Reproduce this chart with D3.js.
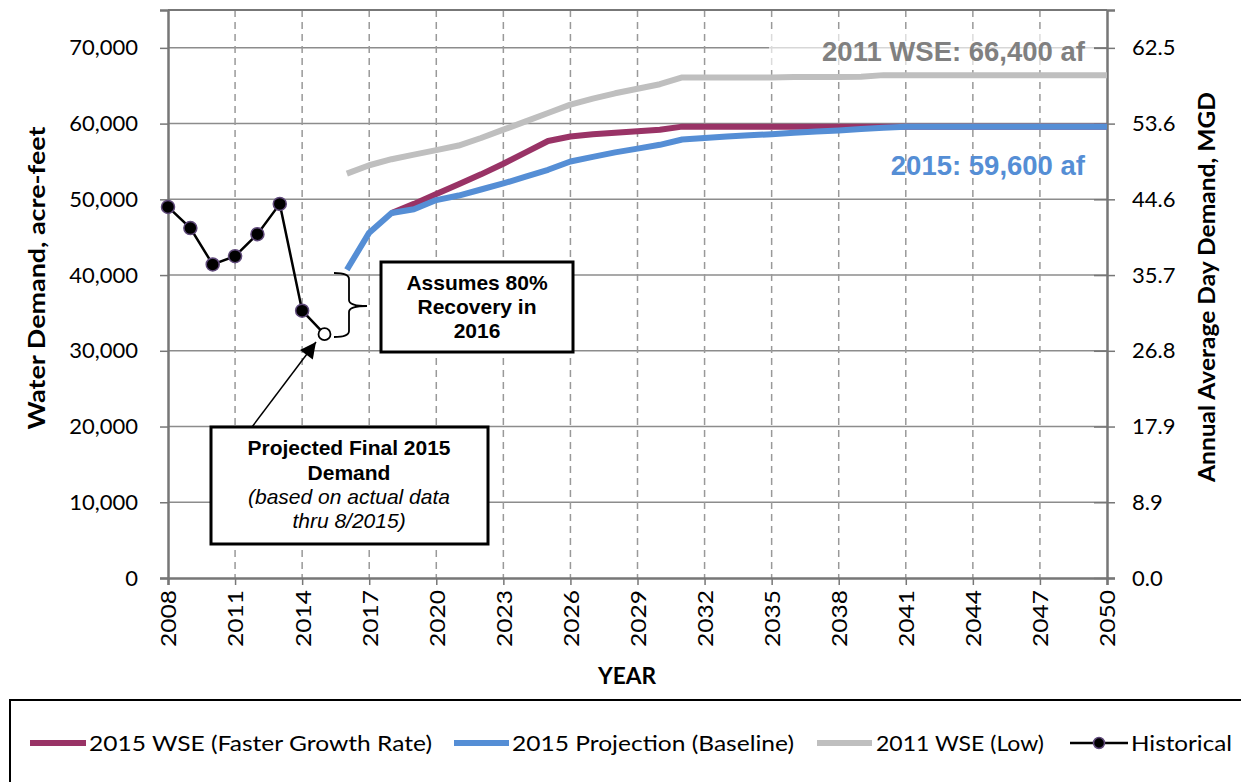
<!DOCTYPE html>
<html>
<head>
<meta charset="utf-8">
<script src="https://cdn.jsdelivr.net/npm/d3@7"></script>
<style>
  body { margin: 0; background: #fff; }
  svg { font-family: "Liberation Sans", Arial, sans-serif; }
  .tick text { fill: #000; }
</style>
</head>
<body>
<div id="chart"></div>
<script>
// ---- data ----
var histYears = [2008, 2009, 2010, 2011, 2012, 2013, 2014];
var histValues = [49000, 46200, 41400, 42500, 45400, 49400, 35300];
var projected2015 = [2015, 32200];

var baseYears = d3.range(2016, 2051);
var baseValues = [40700, 45600, 48200, 48700, 49900, 50500, 51300, 52100, 53000, 53900,
                  55000, 55600, 56200, 56700, 57200, 57900, 58100, 58300, 58450, 58600,
                  58800, 58950, 59100, 59300, 59450, 59600, 59600, 59600, 59600, 59600,
                  59600, 59600, 59600, 59600, 59600];

var fastYears = d3.range(2018, 2051);
var fastValues = [48200, 49400, 50700, 52000, 53300, 54700, 56200, 57700, 58300, 58600,
                  58800, 59000, 59200, 59600, 59600, 59600, 59600, 59600, 59600, 59600,
                  59600, 59600, 59600, 59600, 59600, 59600, 59600, 59600, 59600, 59600,
                  59600, 59600, 59600];

var lowYears = d3.range(2016, 2051);
var lowValues = [53400, 54500, 55300, 55900, 56500, 57100, 58100, 59200, 60300, 61400,
                 62500, 63300, 64000, 64600, 65200, 66100, 66100, 66100, 66100, 66100,
                 66150, 66150, 66150, 66200, 66400, 66400, 66400, 66400, 66400, 66400,
                 66400, 66400, 66400, 66400, 66400];

var yTicks = [0, 10000, 20000, 30000, 40000, 50000, 60000, 70000];
var xTicks = d3.range(2008, 2051, 3);
var legendLabels = ["2015 WSE (Faster Growth Rate)", "2015 Projection (Baseline)", "2011 WSE (Low)", "Historical"];
var AF_PER_MGD = 1120.1;

var cPurple = "#993366", cBlue = "#558ED5", cGray = "#BFBFBF", cGrid = "#8c8c8c";
var uiFont = "Lato, 'Open Sans', sans-serif";

var W = 1241, H = 782;
var svg = d3.select("#chart").append("svg")
    .attr("width", W)
    .attr("height", H);

var x = d3.scaleLinear().domain([2008, 2050]).range([168, 1107]);
var y = d3.scaleLinear().domain([0, 75000]).range([578, 10]);

// gridlines
svg.append("g").selectAll("line.hgrid")
  .data(yTicks.slice(1)).enter().append("line")
    .attr("x1", x(2008)).attr("x2", x(2050))
    .attr("y1", d => y(d)).attr("y2", d => y(d))
    .style("stroke", cGrid).style("stroke-width", 1.5);

svg.append("g").selectAll("line.vgrid")
  .data(xTicks.slice(1, -1)).enter().append("line")
    .attr("x1", d => x(d)).attr("x2", d => x(d))
    .attr("y1", y(75000)).attr("y2", y(0))
    .style("stroke", "#999").style("stroke-width", 1.5)
    .style("stroke-dasharray", "7,5");

// frame
svg.append("line").attr("x1", x(2008)).attr("x2", x(2050)).attr("y1", y(75000)).attr("y2", y(75000))
  .style("stroke", "#777").style("stroke-width", 2);

// axes
var yAxis = d3.axisLeft(y).tickValues(yTicks).tickSize(8).tickPadding(22)
    .tickFormat(d3.format(","));
var gy = svg.append("g").attr("transform", "translate(" + x(2008) + ",0)").call(yAxis);

var yAxisR = d3.axisRight(y).tickValues(yTicks).tickSize(8).tickPadding(17)
    .tickFormat(d => (d / AF_PER_MGD).toFixed(1));
var gyr = svg.append("g").attr("transform", "translate(" + x(2050) + ",0)").call(yAxisR);
gyr.selectAll(".tick line").attr("x1", -13);

var xAxis = d3.axisBottom(x).tickValues(xTicks).tickSize(7).tickFormat(d3.format("d"));
var gx = svg.append("g").attr("transform", "translate(0," + y(0) + ")").call(xAxis);

[gy, gyr, gx].forEach(function(g) {
  g.selectAll(".domain").style("stroke", "#777").style("stroke-width", 2.5);
  g.selectAll(".tick line").style("stroke", "#777").style("stroke-width", 1.5);
  g.selectAll(".tick text").style("font-size", "22px").style("font-family", uiFont);
});

gx.selectAll(".tick text")
  .attr("transform", "rotate(-90)")
  .attr("x", -12).attr("y", 0).attr("dy", "0.36em")
  .attr("textLength", 57).attr("lengthAdjust", "spacingAndGlyphs")
  .style("text-anchor", "end");

// axis titles
svg.append("text")
  .attr("transform", "translate(45,278) rotate(-90)")
  .attr("text-anchor", "middle")
  .attr("textLength", 303).attr("lengthAdjust", "spacingAndGlyphs")
  .style("font-family", uiFont)
  .style("font-size", "22px").style("font-weight", "bold")
  .text("Water Demand, acre-feet");

svg.append("text")
  .attr("transform", "translate(1215,287) rotate(-90)")
  .attr("text-anchor", "middle")
  .attr("textLength", 390).attr("lengthAdjust", "spacingAndGlyphs")
  .style("font-family", uiFont)
  .style("font-size", "22px").style("font-weight", "bold")
  .text("Annual Average Day Demand, MGD");

svg.append("text")
  .attr("x", 627).attr("y", 684)
  .attr("text-anchor", "middle")
  .attr("textLength", 58).attr("lengthAdjust", "spacingAndGlyphs")
  .style("font-family", uiFont)
  .style("font-size", "23px").style("font-weight", "bold")
  .text("YEAR");

// series
var line = d3.line().x(d => x(d[0])).y(d => y(d[1]));

function pairs(xs, vs) { return xs.map((d, i) => [d, vs[i]]); }

svg.append("path").datum(pairs(lowYears, lowValues))
  .attr("d", line).style("fill", "none").style("stroke", cGray)
  .style("stroke-width", 6).style("stroke-linejoin", "round");

svg.append("path").datum(pairs(fastYears, fastValues))
  .attr("d", line).style("fill", "none").style("stroke", cPurple)
  .style("stroke-width", 6).style("stroke-linejoin", "round");

svg.append("path").datum(pairs(baseYears, baseValues))
  .attr("d", line).style("fill", "none").style("stroke", cBlue)
  .style("stroke-width", 6).style("stroke-linejoin", "round");

var hist = pairs(histYears, histValues);
svg.append("path").datum(hist.concat([projected2015]))
  .attr("d", line).style("fill", "none").style("stroke", "#000")
  .style("stroke-width", 2.5);

svg.selectAll("circle.hist").data(hist).enter().append("circle")
  .attr("cx", d => x(d[0])).attr("cy", d => y(d[1])).attr("r", 6.5)
  .style("fill", "#000").style("stroke", "#604a7b").style("stroke-width", 1.5);

svg.append("circle")
  .attr("cx", x(projected2015[0])).attr("cy", y(projected2015[1])).attr("r", 6)
  .style("fill", "#fff").style("stroke", "#000").style("stroke-width", 1.8);

// end labels
svg.append("rect").attr("x", 769).attr("y", 30).attr("width", 325).attr("height", 40)
  .style("fill", "#fff").style("opacity", 0.65);
svg.append("text")
  .attr("x", 1085).attr("y", 61).attr("text-anchor", "end")
  .style("font-size", "27.5px").style("font-weight", "bold").style("fill", "#808080")
  .text("2011 WSE: 66,400 af");
svg.append("text")
  .attr("x", 1085).attr("y", 175).attr("text-anchor", "end")
  .style("font-size", "27.5px").style("font-weight", "bold").style("fill", cBlue)
  .text("2015: 59,600 af");

// brace
svg.append("path")
  .attr("d", "M334,273 Q349,273 349,279 L349,300 Q349,306 367,306 Q349,306 349,312 L349,331 Q349,337 334,337")
  .style("fill", "none").style("stroke", "#000").style("stroke-width", 1.8);

// annotation box 1
svg.append("rect").attr("x", 381).attr("y", 262).attr("width", 192).attr("height", 90)
  .style("fill", "#fff").style("stroke", "#000").style("stroke-width", 3);
var t1 = svg.append("text").attr("text-anchor", "middle")
  .style("font-size", "21px").style("font-weight", "bold");
t1.append("tspan").attr("x", 477).attr("y", 290).text("Assumes 80%");
t1.append("tspan").attr("x", 477).attr("y", 314).text("Recovery in");
t1.append("tspan").attr("x", 477).attr("y", 338).text("2016");

// arrow
var defs = svg.append("defs");
defs.append("marker").attr("id", "arrow")
  .attr("viewBox", "0 0 10 10").attr("refX", 10).attr("refY", 5)
  .attr("markerWidth", 20).attr("markerHeight", 16)
  .attr("markerUnits", "userSpaceOnUse")
  .attr("orient", "auto")
  .append("path").attr("d", "M0,0 L10,5 L0,10 z").style("fill", "#000");
svg.append("line")
  .attr("x1", 252).attr("y1", 427).attr("x2", 316).attr("y2", 342)
  .style("stroke", "#000").style("stroke-width", 1.5)
  .attr("marker-end", "url(#arrow)");

// annotation box 2
svg.append("rect").attr("x", 211).attr("y", 427).attr("width", 277).attr("height", 117)
  .style("fill", "#fff").style("stroke", "#000").style("stroke-width", 3);
var t2 = svg.append("text").attr("text-anchor", "middle").style("font-size", "21px");
t2.append("tspan").attr("x", 349).attr("y", 455).style("font-weight", "bold").text("Projected Final 2015");
t2.append("tspan").attr("x", 349).attr("y", 480).style("font-weight", "bold").text("Demand");
t2.append("tspan").attr("x", 349).attr("y", 504).style("font-style", "italic").text("(based on actual data");
t2.append("tspan").attr("x", 349).attr("y", 528).style("font-style", "italic").text("thru 8/2015)");

// legend
svg.append("rect").attr("x", 10).attr("y", 700).attr("width", 1240).attr("height", 100)
  .style("fill", "#fff").style("stroke", "#000").style("stroke-width", 2);

var legendItems = [
  {label: legendLabels[0], color: cPurple, sx: 30, ex: 86, tx: 89, tw: 343},
  {label: legendLabels[1], color: cBlue, sx: 454, ex: 509, tx: 512, tw: 282},
  {label: legendLabels[2], color: cGray, sx: 817, ex: 872, tx: 876, tw: 168},
  {label: legendLabels[3], color: "#000", sx: 1070, ex: 1128, tx: 1131, tw: 101, marker: true}
];
var lg = svg.append("g");
legendItems.forEach(function(it) {
  lg.append("line").attr("x1", it.sx).attr("x2", it.ex).attr("y1", 743).attr("y2", 743)
    .style("stroke", it.color).style("stroke-width", it.marker ? 2.5 : 6);
  if (it.marker) {
    lg.append("circle").attr("cx", (it.sx + it.ex) / 2).attr("cy", 743).attr("r", 5.5)
      .style("fill", "#000").style("stroke", "#604a7b").style("stroke-width", 1.5);
  }
  lg.append("text").attr("x", it.tx).attr("y", 751)
    .attr("textLength", it.tw).attr("lengthAdjust", "spacingAndGlyphs")
    .style("font-family", uiFont)
    .style("font-size", "22px")
    .text(it.label);
});
</script>
</body>
</html>
